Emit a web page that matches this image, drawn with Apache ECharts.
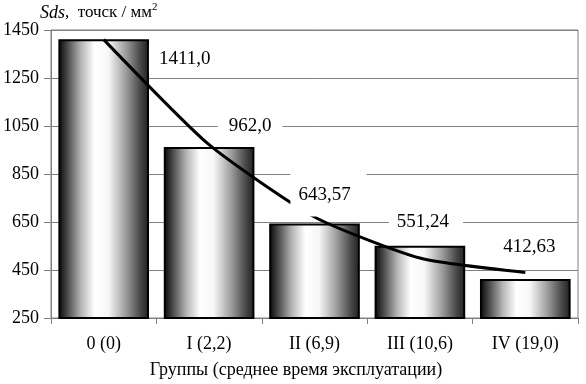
<!DOCTYPE html>
<html><head><meta charset="utf-8">
<script src="https://cdn.jsdelivr.net/npm/echarts@6/dist/echarts.min.js"></script>
<style>html,body{margin:0;padding:0;background:#fff}#c{width:586px;height:384px}</style>
</head><body><div id="c"></div>
<script>
// ---- data ----
const categories = ['0 (0)', 'I (2,2)', 'II (6,9)', 'III (10,6)', 'IV (19,0)'];
const sdsValues = [1411.0, 962.0, 643.57, 551.24, 412.63];
const valueLabels = ['1411,0', '962,0', '643,57', '551,24', '412,63'];
const trendValues = [1410, 972, 671, 500, 440];
const yMin = 250, yMax = 1450, yStep = 200;
const xAxisTitle = 'Группы (среднее время эксплуатации)';

// ---- label layout (style only) ----
const labelLayout = [
  {offset: [81, 35], padding: [5, 10, 5, 10]},
  {offset: [41, -4], padding: [7, 11, 7, 11]},
  {offset: [14, -7], padding: [12, 16, 12, 8]},
  {offset: [6, -7], padding: [7, 14, 7, 8]},
  {offset: [4, -17], padding: [5, 10, 5, 10]}
];

const FONT = 'Liberation Serif';
const chart = echarts.init(document.getElementById('c'), null, {renderer: 'canvas'});

const barGradient = new echarts.graphic.LinearGradient(0, 0, 1, 0, [
  {offset: 0, color: '#050505'},
  {offset: 0.1, color: '#4a4a4a'},
  {offset: 0.25, color: '#b5b5b5'},
  {offset: 0.4, color: '#ffffff'},
  {offset: 0.55, color: '#f7f7f7'},
  {offset: 0.75, color: '#9a9a9a'},
  {offset: 0.9, color: '#4a4a4a'},
  {offset: 1, color: '#1e1e1e'}
]);

chart.setOption({
  animation: false,
  backgroundColor: '#fff',
  title: {
    left: 40, top: 2, padding: 0,
    text: '{i|Sds}{n|,  точск / мм}{s|2}',
    textStyle: {
      fontWeight: 'normal',
      rich: {
        i: {fontFamily: FONT, fontSize: 18, fontStyle: 'italic', fontWeight: 'normal', color: '#000', lineHeight: 22},
        n: {fontFamily: FONT, fontSize: 17, fontWeight: 'normal', color: '#000', lineHeight: 22},
        s: {fontFamily: FONT, fontSize: 11, fontWeight: 'normal', color: '#000', verticalAlign: 'top', lineHeight: 12}
      }
    }
  },
  grid: {left: 47, right: 8, top: 30, bottom: 66, show: true, borderColor: '#808080', borderWidth: 1},
  xAxis: {
    type: 'category',
    data: categories,
    boundaryGap: true,
    axisLine: {lineStyle: {color: '#808080', width: 1}},
    axisTick: {show: true, length: 6, lineStyle: {color: '#808080'}},
    axisLabel: {fontFamily: FONT, fontSize: 18, color: '#000', margin: 17},
    name: xAxisTitle,
    nameLocation: 'middle',
    nameGap: 43,
    nameTextStyle: {fontFamily: FONT, fontSize: 18, color: '#000', padding: [0, 37, 0, 0]}
  },
  yAxis: {
    type: 'value',
    min: yMin, max: yMax, interval: yStep,
    axisLine: {show: true, lineStyle: {color: '#808080', width: 1}},
    axisTick: {show: true, length: 7, lineStyle: {color: '#808080'}},
    axisLabel: {fontFamily: FONT, fontSize: 18, color: '#000', margin: 12, formatter: v => String(v)},
    splitLine: {show: true, lineStyle: {color: '#808080', width: 1}}
  },
  series: [
    {
      type: 'bar',
      data: sdsValues,
      barCategoryGap: '14%',
      z: 2,
      itemStyle: {color: barGradient, borderColor: '#000', borderWidth: 2},
      emphasis: {disabled: true}
    },
    {
      type: 'line',
      data: trendValues,
      smooth: 0.2,
      symbol: 'none',
      z: 3,
      lineStyle: {color: '#000', width: 3},
      emphasis: {disabled: true}
    },
    {
      type: 'bar',
      data: sdsValues.map((v, i) => ({
        value: v,
        label: {offset: labelLayout[i].offset, padding: labelLayout[i].padding}
      })),
      barGap: '-100%',
      barCategoryGap: '14%',
      z: 5,
      itemStyle: {color: 'rgba(0,0,0,0)'},
      emphasis: {disabled: true},
      label: {
        show: true,
        position: 'top',
        distance: 0,
        formatter: p => valueLabels[p.dataIndex],
        fontFamily: FONT,
        fontSize: 19,
        lineHeight: 20,
        color: '#000',
        backgroundColor: '#fff'
      }
    }
  ]
});
</script>
</body></html>
